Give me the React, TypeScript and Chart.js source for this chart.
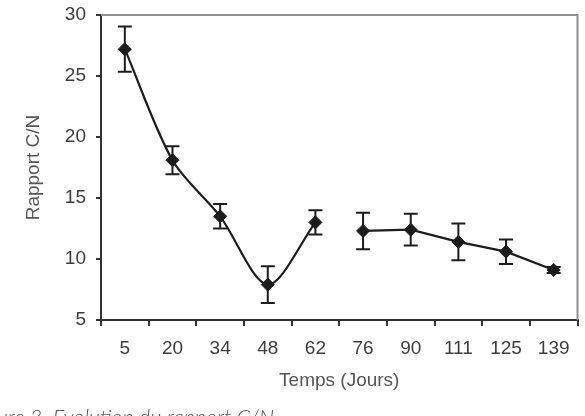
import { useEffect, useRef } from 'react';
import { Chart, registerables } from 'chart.js';

Chart.register(...registerables);

// Temps de compostage (jours) et rapport C/N mesuré, avec son écart-type
const jours = ['5', '20', '34', '48', '62', '76', '90', '111', '125', '139'];
const rapportCN = [27.2, 18.1, 13.5, 7.9, 13.0, 12.3, 12.4, 11.4, 10.6, 9.1];
const ecartType = [1.85, 1.15, 1.0, 1.5, 1.0, 1.5, 1.3, 1.5, 1.0, 0.25];
const graduationsY = [5, 10, 15, 20, 25, 30];
// index du premier point de la seconde phase (courbe interrompue avant)
const debutSecondePhase = 5;

const ENCRE = '#1c1c1c';
const TEXTE = '#3d3d3d';
const POLICE = "'Liberation Sans', Arial, sans-serif";

const barresErreur = {
  id: 'barresErreur',
  beforeDatasetsDraw(chart: any) {
    const { ctx, scales } = chart;
    const x = scales.x;
    const y = scales.y;
    ctx.save();
    ctx.strokeStyle = ENCRE;
    ctx.lineWidth = 2;
    rapportCN.forEach((v, i) => {
      const px = x.getPixelForValue(i);
      const haut = y.getPixelForValue(v + ecartType[i]);
      const bas = y.getPixelForValue(v - ecartType[i]);
      ctx.beginPath();
      ctx.moveTo(px, haut);
      ctx.lineTo(px, bas);
      ctx.moveTo(px - 7, haut);
      ctx.lineTo(px + 7, haut);
      ctx.moveTo(px - 7, bas);
      ctx.lineTo(px + 7, bas);
      ctx.stroke();
    });
    ctx.restore();
  },
};

const cadre = {
  id: 'cadre',
  beforeDatasetsDraw(chart: any) {
    const { ctx, chartArea } = chart;
    ctx.save();
    ctx.strokeStyle = '#8f8f8f';
    ctx.lineWidth = 2;
    ctx.beginPath();
    ctx.moveTo(chartArea.left, chartArea.top);
    ctx.lineTo(chartArea.right, chartArea.top);
    ctx.lineTo(chartArea.right, chartArea.bottom);
    ctx.stroke();
    ctx.restore();
  },
};

export default function App() {
  const canvasRef = useRef<HTMLCanvasElement | null>(null);

  useEffect(() => {
    document.body.style.margin = '0';
    const canvas = canvasRef.current;
    if (!canvas) return;

    const point = (j: string, i: number) => ({ x: j, y: rapportCN[i] });
    const phase1 = jours.slice(0, debutSecondePhase).map((j, i) => point(j, i));
    const phase2 = jours
      .slice(debutSecondePhase)
      .map((j, i) => point(j, i + debutSecondePhase));

    const serie = {
      borderColor: ENCRE,
      backgroundColor: ENCRE,
      borderWidth: 2.2,
      pointStyle: 'rectRot',
      pointRadius: 6.5,
      pointBorderWidth: 1,
      pointBackgroundColor: ENCRE,
      pointBorderColor: ENCRE,
    };

    const chart = new Chart(canvas, {
      type: 'line',
      data: {
        labels: jours,
        datasets: [
          { ...serie, data: phase1, tension: 0.3 },
          { ...serie, data: phase2, tension: 0 },
        ],
      } as any,
      options: {
        animation: false,
        responsive: false,
        devicePixelRatio: 1,
        layout: { padding: { top: 15, right: 7, left: 0, bottom: 0 } },
        plugins: {
          legend: { display: false },
          tooltip: { enabled: false },
        },
        scales: {
          x: {
            type: 'category',
            offset: true,
            grid: {
              offset: true,
              drawOnChartArea: false,
              drawTicks: true,
              tickLength: 6,
              color: '#333',
              lineWidth: 2,
            },
            border: { color: '#333', width: 2 },
            ticks: {
              color: TEXTE,
              font: { family: POLICE, size: 19 },
              padding: 11,
              maxRotation: 0,
              autoSkip: false,
            },
            title: {
              display: true,
              text: 'Temps (Jours)',
              color: '#555',
              font: { family: POLICE, size: 19 },
              padding: { top: 0, bottom: 24 },
            },
            afterFit(scale: any) {
              scale.height = 96;
              scale.paddingLeft = 0;
              scale.paddingRight = 0;
            },
          },
          y: {
            min: 5,
            max: 30,
            afterBuildTicks(scale: any) {
              scale.ticks = graduationsY.map((v) => ({ value: v }));
            },
            grid: {
              drawOnChartArea: false,
              drawTicks: true,
              tickLength: 5,
              color: '#333',
              lineWidth: 2,
            },
            border: { color: '#333', width: 2 },
            ticks: {
              color: TEXTE,
              font: { family: POLICE, size: 19 },
              padding: 10,
            },
            title: {
              display: true,
              text: 'Rapport C/N',
              color: '#555',
              font: { family: POLICE, size: 19 },
              padding: { top: 22, bottom: 0 },
            },
            afterFit(scale: any) {
              scale.width = 101;
              scale.paddingTop = 0;
              scale.paddingBottom = 0;
            },
          },
        },
      } as any,
      plugins: [barresErreur, cadre],
    });

    return () => chart.destroy();
  }, []);

  return (
    <div
      style={{
        position: 'absolute',
        left: 0,
        top: 0,
        width: 585,
        height: 416,
        overflow: 'hidden',
        background: '#fff',
      }}
    >
      <canvas ref={canvasRef} width={585} height={416} style={{ display: 'block' }} />
      <div
        style={{
          position: 'absolute',
          left: -29,
          top: 405,
          whiteSpace: 'nowrap',
          fontFamily: "Lato, 'Open Sans', sans-serif",
          fontStyle: 'italic',
          fontWeight: 300,
          fontSize: 21.5,
          lineHeight: '24px',
          color: '#555',
        }}
      >
        Figure 3. Evolution du rapport C/N
      </div>
    </div>
  );
}
